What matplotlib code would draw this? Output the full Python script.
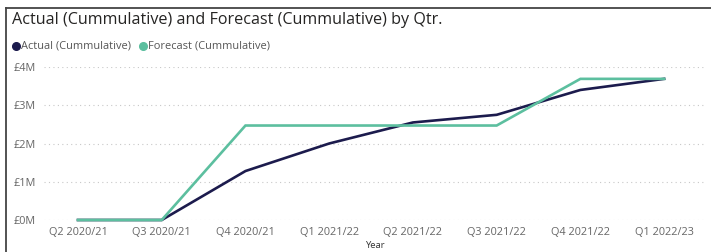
import matplotlib
matplotlib.use("Agg")
import matplotlib.pyplot as plt
from matplotlib.lines import Line2D

quarters = ["Q2 2020/21", "Q3 2020/21", "Q4 2020/21", "Q1 2021/22",
            "Q2 2021/22", "Q3 2021/22", "Q4 2021/22", "Q1 2022/23"]
actual = [0.0, 0.0, 1.28, 2.0, 2.55, 2.75, 3.4, 3.69]
forecast = [0.0, 0.0, 2.47, 2.47, 2.47, 2.47, 3.69, 3.69]
ytick_vals = [0, 1, 2, 3, 4]
ytick_labels = ["£0M", "£1M", "£2M", "£3M", "£4M"]

navy = "#1c1b4d"
teal = "#5cbf9f"
font = "Open Sans"

fig = plt.figure(figsize=(7.11, 2.52), dpi=100)
W, H = 711, 252
ax = fig.add_axes([44 / W, (H - 220) / H, (706 - 44) / W, (220 - 67) / H])

x = list(range(len(quarters)))
ax.plot(x, actual, color=navy, lw=1.9, clip_on=False, solid_joinstyle="miter", zorder=3)
ax.plot(x, forecast, color=teal, lw=1.9, clip_on=False, solid_joinstyle="miter", zorder=3)

ax.set_xlim(-0.406, 7.50)
ax.set_ylim(0, 4)
ax.set_yticks(ytick_vals)
ax.set_yticklabels(ytick_labels, fontsize=7.8, color="#666666", family=font)
ax.set_xticks(x)
ax.set_xticklabels(quarters, fontsize=7.8, color="#666666", family=font)
ax.tick_params(axis="both", length=0)
ax.tick_params(axis="y", pad=6)
ax.tick_params(axis="x", pad=5)
for s in ax.spines.values():
    s.set_visible(False)
ax.grid(axis="y", color="#c8c8c8", linestyle=(0, (1, 3)), lw=0.8)
ax.set_axisbelow(True)

ax.set_xlabel("Year", fontsize=6.8, color="#333333", family=font, labelpad=2)

fig.text(12 / W, 1 - 20 / H, "Actual (Cummulative) and Forecast (Cummulative) by Qtr.",
         fontsize=11.6, color="#252423", family=font, va="center", ha="left")

# legend
ly = 1 - 46 / H
fig.add_artist(Line2D([16 / W], [ly], marker="o", markersize=5.5, color=navy, lw=0,
                      transform=fig.transFigure))
fig.text(21 / W, ly, "Actual (Cummulative)", fontsize=7.9, color="#555555",
         family=font, va="center", ha="left")
fig.add_artist(Line2D([143 / W], [ly], marker="o", markersize=5.5, color=teal, lw=0,
                      transform=fig.transFigure))
fig.text(148 / W, ly, "Forecast (Cummulative)", fontsize=7.9, color="#555555",
         family=font, va="center", ha="left")

# frame border (top and left)
fig.add_artist(Line2D([6 / W, 1], [1 - 7.5 / H, 1 - 7.5 / H], color="#444444", lw=1.3,
                      transform=fig.transFigure))
fig.add_artist(Line2D([6 / W, 6 / W], [0, 1 - 7.5 / H], color="#444444", lw=1.3,
                      transform=fig.transFigure))

fig.savefig("out.png", dpi=100)
